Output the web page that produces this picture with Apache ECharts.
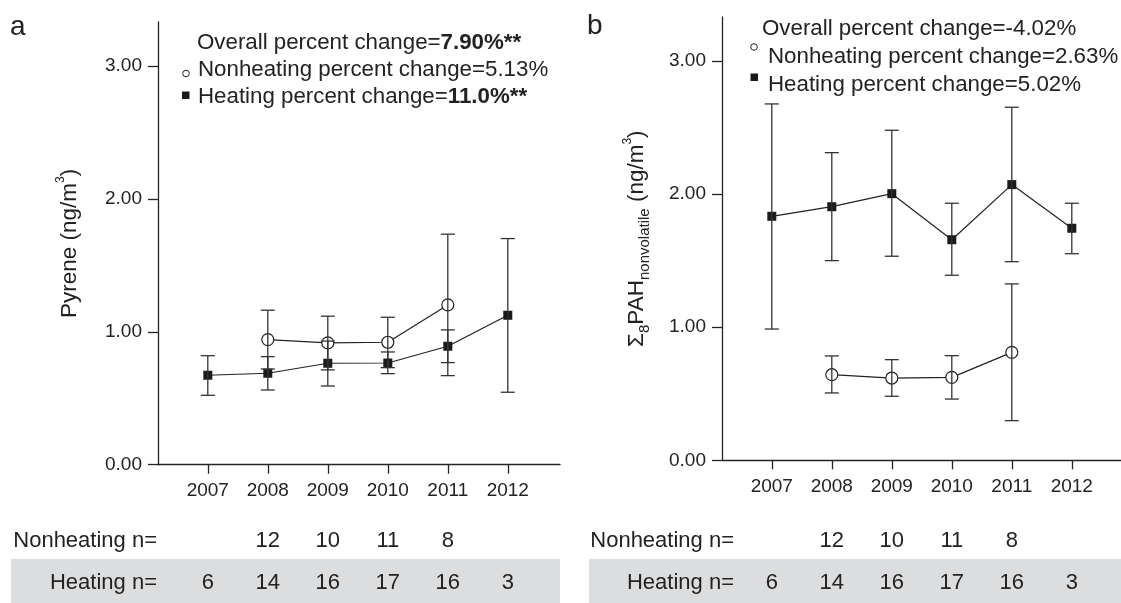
<!DOCTYPE html>
<html>
<head>
<meta charset="utf-8">
<script src="https://cdn.jsdelivr.net/npm/echarts@6/dist/echarts.min.js"></script>
<style>
html,body{margin:0;padding:0;background:#fff;}
#chart{width:1121px;height:603px;}
</style>
</head>
<body>
<div id="chart"></div>
<script>
// ---------- data ----------
var years = [2007, 2008, 2009, 2010, 2011, 2012];
var yTicks = [0, 1, 2, 3];

// Panel a: Pyrene (ng/m3)
var pyreneHeatMean = [0.673, 0.688, 0.763, 0.765, 0.891, 1.124];
var pyreneHeatLow  = [0.522, 0.562, 0.592, 0.685, 0.768, 0.545];
var pyreneHeatHigh = [0.820, 0.813, 0.930, 0.848, 1.014, 1.701];
var pyreneNonMean  = [null, 0.941, 0.916, 0.921, 1.202, null];
var pyreneNonLow   = [null, 0.720, 0.713, 0.730, 0.670, null];
var pyreneNonHigh  = [null, 1.162, 1.117, 1.109, 1.734, null];

// Panel b: sum8 PAH nonvolatile (ng/m3)
var pahHeatMean = [1.833, 1.905, 2.003, 1.657, 2.071, 1.743];
var pahHeatLow  = [0.986, 1.500, 1.533, 1.390, 1.492, 1.552];
var pahHeatHigh = [2.677, 2.311, 2.479, 1.931, 2.652, 1.931];
var pahNonMean  = [null, 0.643, 0.618, 0.623, 0.811, null];
var pahNonLow   = [null, 0.506, 0.481, 0.460, 0.298, null];
var pahNonHigh  = [null, 0.784, 0.756, 0.786, 1.325, null];

// sample sizes
var nonheatingN = [null, 12, 10, 11, 8, null];
var heatingN    = [6, 14, 16, 17, 16, 3];

// ---------- styles ----------
var FONT = '"Liberation Sans", Arial, Helvetica, sans-serif';
var INK = '#222';
var LEG = 22.3;
var TAB = 22;

function pairs(vals) {
  var out = [];
  for (var i = 0; i < years.length; i++) if (vals[i] != null) out.push([years[i], vals[i]]);
  return out;
}
function triples(lo, hi) {
  var out = [];
  for (var i = 0; i < years.length; i++) if (lo[i] != null) out.push([years[i], lo[i], hi[i]]);
  return out;
}

function errorSeries(axisIdx, lo, hi) {
  return {
    type: 'custom',
    xAxisIndex: axisIdx * 3,
    yAxisIndex: axisIdx,
    z: 4,
    silent: true,
    data: triples(lo, hi),
    renderItem: function (params, api) {
      var x = api.value(0);
      var pLo = api.coord([x, api.value(1)]);
      var pHi = api.coord([x, api.value(2)]);
      var w = 7;
      var st = { stroke: '#333', lineWidth: 1.3 };
      return {
        type: 'group',
        children: [
          { type: 'line', shape: { x1: pLo[0], y1: pLo[1], x2: pHi[0], y2: pHi[1] }, style: st },
          { type: 'line', shape: { x1: pLo[0] - w, y1: pLo[1], x2: pLo[0] + w, y2: pLo[1] }, style: st },
          { type: 'line', shape: { x1: pHi[0] - w, y1: pHi[1], x2: pHi[0] + w, y2: pHi[1] }, style: st }
        ]
      };
    }
  };
}

function lineSeries(axisIdx, vals, kind) {
  var isCircle = kind === 'circle';
  return {
    type: 'line',
    xAxisIndex: axisIdx * 3,
    yAxisIndex: axisIdx,
    z: 2,
    silent: true,
    data: pairs(vals),
    symbol: isCircle ? 'circle' : 'rect',
    symbolSize: isCircle ? 12 : 9,
    lineStyle: { color: INK, width: 1.2 },
    itemStyle: isCircle
      ? { color: '#fff', borderColor: INK, borderWidth: 1.2 }
      : { color: '#1a1a1a', borderWidth: 0 },
    animation: false
  };
}

var grids = [
  { left: 158, top: 22, width: 402, height: 442.7 },
  { left: 722, top: 17, width: 399, height: 443.3 }
];
var xMax = [2012.87, 2012.82];
var nameGapTable = [1, -12];
var rowOffsets = [[76, 118.6], [80.4, 123]];

var xAxes = [];
[0, 1].forEach(function (g) {
  xAxes.push({
    type: 'value', gridIndex: g, min: 2006.17, max: xMax[g],
    axisLine: { show: true, lineStyle: { color: INK, width: 1.3 } },
    axisTick: { show: true, customValues: years, length: 9, lineStyle: { color: INK, width: 1.3 } },
    axisLabel: { customValues: years, margin: 17, fontSize: 19, color: INK, fontFamily: FONT,
                 formatter: function (v) { return String(v); } },
    splitLine: { show: false }
  });
  xAxes.push({
    type: 'value', gridIndex: g, min: 2006.17, max: xMax[g], position: 'bottom', offset: rowOffsets[g][0],
    axisLine: { show: false }, axisTick: { show: false }, splitLine: { show: false },
    name: 'Nonheating n=', nameLocation: 'start', nameGap: nameGapTable[g],
    nameTextStyle: { fontSize: TAB, color: INK, fontFamily: FONT, align: 'right', verticalAlign: 'middle' },
    axisLabel: { customValues: years, margin: 0, verticalAlign: 'middle', fontSize: TAB, color: INK, fontFamily: FONT,
                 formatter: function (v) { var n = nonheatingN[years.indexOf(v)]; return n == null ? '' : String(n); } }
  });
  xAxes.push({
    type: 'value', gridIndex: g, min: 2006.17, max: xMax[g], position: 'bottom', offset: rowOffsets[g][1],
    axisLine: { show: false }, axisTick: { show: false }, splitLine: { show: false },
    name: 'Heating n=', nameLocation: 'start', nameGap: nameGapTable[g],
    nameTextStyle: { fontSize: TAB, color: INK, fontFamily: FONT, align: 'right', verticalAlign: 'middle' },
    axisLabel: { customValues: years, margin: 0, verticalAlign: 'middle', fontSize: TAB, color: INK, fontFamily: FONT,
                 formatter: function (v) { var n = heatingN[years.indexOf(v)]; return n == null ? '' : String(n); } }
  });
});

var richName = {
  s: { fontSize: 22.5, lineHeight: 30, color: INK, fontFamily: FONT },
  sub: { fontSize: 15, lineHeight: 15, verticalAlign: 'bottom', color: INK, fontFamily: FONT },
  sup: { fontSize: 12, lineHeight: 12, verticalAlign: 'top', color: INK, fontFamily: FONT }
};

var yNames = [
  '{s|Pyrene (ng/m}{sup|3}{s|)}',
  '{s|\u03A3}{sub|8}{s|PAH}{sub|nonvolatile}{s| (ng/m}{sup|3}{s|)}'
];
var yNameGap = [73, 70];

var yAxes = [0, 1].map(function (g) {
  return {
    type: 'value', gridIndex: g, min: 0, max: 3.33,
    name: yNames[g], nameLocation: 'middle', nameGap: yNameGap[g],
    nameTextStyle: { rich: richName },
    axisLine: { show: true, lineStyle: { color: INK, width: 1.3 } },
    axisTick: { show: true, customValues: yTicks, length: 10, lineStyle: { color: INK, width: 1.3 } },
    axisLabel: { customValues: yTicks, margin: 16, fontSize: 19, color: INK, fontFamily: FONT,
                 formatter: function (v) { return v.toFixed(2); } },
    splitLine: { show: false }
  };
});

function txt(x, y, text, size, rich) {
  return { type: 'text', x: x, y: y, z: 10,
    style: { text: text, fontSize: size, fontFamily: FONT, fill: INK, verticalAlign: 'middle', align: 'left', rich: rich || {} } };
}
var boldRich = { b: { fontWeight: 'bold', fontSize: LEG, fontFamily: FONT, fill: INK } };

var graphics = [
  // grey bands behind heating n rows
  { type: 'rect', z: -1, shape: { x: 11, y: 559, width: 549, height: 44 }, style: { fill: '#dcdddf' } },
  { type: 'rect', z: -1, shape: { x: 589, y: 559, width: 532, height: 44 }, style: { fill: '#dcdddf' } },
  // panel letters
  txt(10, 27, 'a', 28),
  txt(587, 26, 'b', 28),
  // panel a legend
  txt(197, 43, 'Overall percent change={b|7.90%**}', LEG, boldRich),
  txt(198, 70, 'Nonheating percent change=5.13%', LEG),
  txt(198, 97, 'Heating percent change={b|11.0%**}', LEG, boldRich),
  { type: 'circle', z: 10, shape: { cx: 186, cy: 73.5, r: 3.3 }, style: { fill: '#fff', stroke: INK, lineWidth: 1 } },
  { type: 'rect', z: 10, shape: { x: 182, y: 91.5, width: 7.5, height: 7.5 }, style: { fill: '#1a1a1a' } },
  // panel b legend
  txt(762, 29, 'Overall percent change=-4.02%', LEG),
  txt(768, 57, 'Nonheating percent change=2.63%', LEG),
  txt(768, 85, 'Heating percent change=5.02%', LEG),
  { type: 'circle', z: 10, shape: { cx: 754, cy: 47, r: 3.3 }, style: { fill: '#fff', stroke: INK, lineWidth: 1 } },
  { type: 'rect', z: 10, shape: { x: 750.5, y: 73.5, width: 7.5, height: 7.5 }, style: { fill: '#1a1a1a' } }
];

var chart = echarts.init(document.getElementById('chart'), null, { renderer: 'canvas' });
chart.setOption({
  animation: false,
  backgroundColor: '#fff',
  textStyle: { fontFamily: FONT },
  grid: grids,
  xAxis: xAxes,
  yAxis: yAxes,
  graphic: graphics,
  series: [
    lineSeries(0, pyreneHeatMean, 'rect'),
    lineSeries(0, pyreneNonMean, 'circle'),
    errorSeries(0, pyreneHeatLow, pyreneHeatHigh),
    errorSeries(0, pyreneNonLow, pyreneNonHigh),
    lineSeries(1, pahHeatMean, 'rect'),
    lineSeries(1, pahNonMean, 'circle'),
    errorSeries(1, pahHeatLow, pahHeatHigh),
    errorSeries(1, pahNonLow, pahNonHigh)
  ]
});
</script>
</body>
</html>
